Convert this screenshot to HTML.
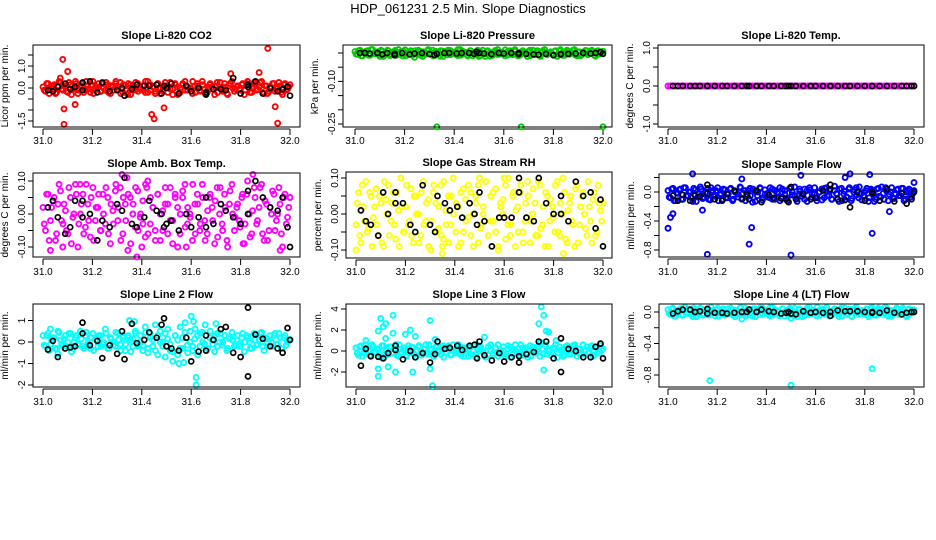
<!DOCTYPE html>
<html>
<head>
<meta charset="utf-8">
<style>
html,body{margin:0;padding:0;background:#fff;}
svg{display:block;font-family:"Liberation Sans",Arial,sans-serif;}
</style>
</head>
<body>
<svg id="chart" width="936" height="540" viewBox="0 0 936 540" xmlns="http://www.w3.org/2000/svg">
<rect x="0" y="0" width="936" height="540" fill="#fff"/>
<text x="468" y="13" text-anchor="middle" font-size="13">HDP_061231  2.5 Min. Slope Diagnostics</text>
</svg>
<script>
const blackTimes = [31.02,31.04,31.06,31.09,31.11,31.13,31.16,31.16,31.19,31.22,31.24,31.27,31.30,31.32,31.33,31.36,31.38,31.41,31.43,31.46,31.48,31.49,31.50,31.52,31.55,31.58,31.60,31.63,31.66,31.66,31.69,31.72,31.74,31.77,31.80,31.83,31.83,31.86,31.89,31.92,31.95,31.97,31.99,32.0];
const xTickValues = [31.0,31.2,31.4,31.6,31.8,32.0];
const xTickLabels = ["31.0","31.2","31.4","31.6","31.8","32.0"];

// ---- Panel 1: CO2
const co2Values = [0.05,-0.15,0.2,-0.05,0.1,-0.25,0.1,0.25,-0.1,0.05,-0.2,0.15,-0.05,0.3,-0.25,0.0,0.2,-0.1,0.1,-0.2,0.3,-0.05,0.05,-0.15,0.2,-0.1,0.15,-0.25,0.05,0.2,-0.05,0.25,-0.2,0.1,-0.3,0.15,0.0,-0.1,0.2,-0.05,0.1,-0.2,0.3,-0.1,0.05,-0.15,0.2,-0.25,0.05,0.1,-0.2,0.25,-0.05,0.15,-0.3,0.0,0.2,-0.1,0.05,-0.05,0.3,-0.2,0.1,-0.1,0.15,-0.25,0.05,0.2,-0.05,0.1,-0.2,0.25,-0.15,0.05,-0.3,0.2,0.0,-0.05,0.1,-0.1,0.2,-0.1,0.3,-0.2,0.05,0.15,-0.05,0.25,-0.2,0.1,-0.25,0.05,0.2,-0.15,0.0,0.1,-0.3,0.2,-0.05,0.15];
const co2ValuesB = [-0.1,0.2,-0.25,0.05,0.15,-0.2,0.3,-0.05,0.1,-0.15,0.25,-0.3,0.0,0.2,-0.1,0.1,-0.2,0.3,-0.05,0.15,-0.25,0.05,0.2,-0.15,0.0,0.25,-0.2,0.1,-0.1,0.3,0.05,-0.25,0.15,-0.05,0.2,-0.3,0.1,0.25,-0.15,0.0,-0.1,0.3,-0.2,0.15,0.05,-0.25,0.2,0.0,-0.15,0.25,0.1,-0.05,-0.3,0.2,0.05,-0.2,0.15,0.3,-0.1,0.0,-0.25,0.1,0.2,-0.15,0.3,-0.05,-0.2,0.15,0.05,-0.3,0.25,0.0,-0.1,0.2,-0.25,0.1,0.3,-0.15,0.05,-0.05,0.15,-0.3,0.2,0.0,-0.2,0.25,-0.1,0.05,0.3,-0.25,0.1,-0.15,0.0,0.2,-0.05,0.25,-0.2,0.15,-0.1,0.05];
const co2OutT = [31.08,31.085,31.10,31.085,31.13,31.07,31.44,31.45,31.49,31.76,31.875,31.91,31.94,31.95];
const co2OutV = [1.3,-1.65,0.75,-0.95,-0.75,0.45,-1.2,-1.4,-0.9,0.65,0.7,1.8,-0.85,-1.6];
const co2Black = [-0.1,-0.15,0.05,0.2,-0.05,0.05,-0.1,0.25,0.3,-0.2,0.25,-0.15,-0.1,0.0,-0.35,-0.05,0.15,0.1,0.1,0.15,-0.25,0.1,0.0,0.2,-0.25,0.1,-0.15,0.0,-0.3,-0.2,-0.05,-0.05,-0.1,0.45,-0.25,0.05,0.15,0.3,-0.25,0.0,-0.15,-0.05,0.05,-0.35];

// ---- Panel 2: Pressure
const presValues = [0.005,-0.005,0.01,-0.01,0.0,0.008,-0.008,0.012,-0.003,0.004,-0.012,0.006,-0.004,0.01,-0.009,0.002,0.009,-0.006,0.003,-0.01,0.011,-0.002,0.005,-0.007,0.008,-0.004,0.006,-0.012,0.001,0.009,-0.003,0.01,-0.008,0.004,-0.011,0.007,0.0,-0.006,0.009,-0.002,0.004,-0.009,0.012,-0.004,0.002,-0.007,0.008,-0.01,0.003,0.005,-0.008,0.01,-0.003,0.006,-0.011,0.001,0.009,-0.005,0.003,-0.002,0.011,-0.007,0.004,-0.004,0.006,-0.01,0.002,0.008,-0.003,0.005,-0.009,0.01,-0.006,0.002,-0.012,0.008,0.0,-0.002,0.004,-0.005,0.008,-0.004,0.012,-0.008,0.002,0.006,-0.002,0.01,-0.007,0.004,-0.01,0.003,0.009,-0.006,0.0,0.005,-0.011,0.008,-0.002,0.006];
const presValuesB = [-0.004,0.008,-0.01,0.002,0.006,-0.008,0.012,-0.002,0.004,-0.006,0.01,-0.012,0.0,0.008,-0.004,0.004,-0.008,0.012,-0.002,0.006,-0.01,0.002,0.008,-0.006,0.0,0.01,-0.008,0.004,-0.004,0.012,0.002,-0.01,0.006,-0.002,0.008,-0.012,0.004,0.01,-0.006,0.0,-0.004,0.012,-0.008,0.006,0.002,-0.01,0.008,0.0,-0.006,0.01,0.004,-0.002,-0.012,0.008,0.002,-0.008,0.006,0.012,-0.004,0.0,-0.01,0.004,0.008,-0.006,0.012,-0.002,-0.008,0.006,0.002,-0.012,0.01,0.0,-0.004,0.008,-0.01,0.004,0.012,-0.006,0.002,-0.002,0.006,-0.012,0.008,0.0,-0.008,0.01,-0.004,0.002,0.012,-0.01,0.004,-0.006,0.0,0.008,-0.002,0.01,-0.008,0.006,-0.004,0.002];
const presOutT = [31.33,31.67,32.0,31.24,31.5];
const presOutV = [-0.26,-0.26,-0.26,-0.015,-0.012];
const presBlack = [0,0,-0.002,0.0,-0.005,0.0,-0.008,-0.003,0.0,-0.005,-0.002,0.0,-0.004,-0.007,-0.003,0.0,0.0,-0.002,0.0,0.0,-0.003,0.004,0.0,-0.002,-0.004,0.0,-0.002,0.0,0.0,-0.004,-0.003,-0.005,-0.006,-0.003,-0.008,-0.005,-0.004,-0.003,-0.002,0.0,-0.002,0.0,0.003,-0.003];

// ---- Panel 3: Li-820 Temp
const tempValues = [0,0,0,0,0,0,0,0,0,0,0,0,0,0,0,0,0,0,0,0,0,0,0,0,0,0,0,0,0,0,0,0,0,0,0,0,0,0,0,0,0,0,0,0,0,0,0,0,0,0,0,0,0,0,0,0,0,0,0,0,0,0,0,0,0,0,0,0,0,0,0,0,0,0,0,0,0,0,0,0,0,0,0,0,0,0,0,0,0,0,0,0,0,0,0,0,0,0,0,0];
const tempValuesB = [];
const tempOutT = [];
const tempOutV = [];
const tempBlack = [0,0,0,0,0,0,0,0,0,0,0,0,0,0,0,0,0,0,0,0,0,0,0,0,0,0,0,0,0,0,0,0,0,0,0,0,0,0,0,0,0,0,0,0];

// ---- Panel 4: Amb. Box Temp
const ambValues = [0.02,-0.05,0.06,-0.02,0.04,-0.08,0.03,0.07,-0.03,0.01,-0.06,0.05,-0.01,0.09,-0.10,0.0,0.06,-0.04,0.03,-0.07,0.08,-0.02,0.02,-0.05,0.06,-0.03,0.05,-0.09,0.01,0.07,-0.02,0.08,-0.06,0.03,-0.11,0.05,0.0,-0.04,0.07,-0.01,0.04,-0.07,0.10,-0.03,0.02,-0.05,0.06,-0.08,0.01,0.03,-0.06,0.08,-0.02,0.05,-0.10,0.0,0.07,-0.04,0.02,-0.01,0.09,-0.06,0.03,-0.03,0.05,-0.08,0.01,0.06,-0.02,0.04,-0.07,0.08,-0.05,0.02,-0.10,0.07,0.0,-0.01,0.03,-0.04,0.06,-0.03,0.10,-0.07,0.01,0.05,-0.02,0.08,-0.06,0.04,-0.08,0.02,0.07,-0.05,0.0,0.03,-0.10,0.06,-0.01,0.05];
const ambValuesB = [-0.03,0.06,-0.08,0.02,0.05,-0.06,0.09,-0.02,0.03,-0.05,0.08,-0.09,0.0,0.06,-0.03,0.03,-0.06,0.09,-0.02,0.05,-0.08,0.02,0.06,-0.05,0.0,0.08,-0.06,0.03,-0.03,0.09,0.02,-0.08,0.05,-0.02,0.06,-0.09,0.03,0.08,-0.05,0.0,-0.03,0.09,-0.06,0.05,0.02,-0.08,0.06,0.0,-0.05,0.08,0.03,-0.02,-0.09,0.06,0.02,-0.06,0.05,0.09,-0.03,0.0,-0.08,0.03,0.06,-0.05,0.09,-0.02,-0.06,0.05,0.02,-0.09,0.08,0.0,-0.03,0.06,-0.08,0.03,0.09,-0.05,0.02,-0.02,0.05,-0.09,0.06,0.0,-0.06,0.08,-0.03,0.02,0.09,-0.08,0.03,-0.05,0.0,0.06,-0.02,0.08,-0.06,0.05,-0.03,0.02];
const ambOutT = [31.03,31.08,31.15,31.32,31.34,31.38,31.40,31.58,31.85,31.96,31.81,31.42];
const ambOutV = [-0.11,-0.10,0.09,0.12,0.11,-0.13,-0.10,-0.10,0.12,-0.11,-0.09,0.08];
const ambBlack = [0.02,0.04,-0.01,-0.06,-0.04,0.04,0.04,-0.01,0.00,-0.08,-0.02,-0.04,0.03,0.01,0.11,-0.03,-0.04,-0.01,0.04,0.01,0.00,-0.04,-0.03,-0.02,-0.05,0.00,-0.04,-0.01,-0.04,0.05,-0.03,0.03,0.01,-0.01,-0.03,0.07,0.00,0.10,0.05,0.02,0.01,0.05,-0.04,-0.10];

// ---- Panel 5: Gas Stream RH
const rhValues = [-0.03,0.06,-0.08,0.02,0.09,-0.04,0.05,-0.01,0.07,-0.06,0.03,-0.09,0.04,0.08,-0.02,0.06,-0.07,0.01,0.10,-0.05,0.02,-0.03,0.07,-0.08,0.05,0.0,-0.06,0.09,-0.02,0.04,-0.10,0.06,0.03,-0.04,0.08,-0.07,0.01,0.05,-0.03,0.10,-0.05,0.02,-0.08,0.07,0.04,-0.01,0.06,-0.09,0.03,0.08,-0.04,0.0,0.09,-0.06,0.05,-0.02,0.07,-0.10,0.02,0.04,-0.07,0.10,-0.03,0.06,0.01,-0.05,0.08,-0.08,0.03,0.05,-0.02,0.07,-0.06,0.09,-0.04,0.02,0.06,-0.09,0.04,-0.01,0.08,-0.05,0.03,0.10,-0.07,0.01,0.05,-0.03,0.07,-0.08,0.02,0.06,-0.04,0.09,-0.02,0.04,-0.06,0.08,0.01,0.03];
const rhValuesB = [0.03,-0.06,0.08,-0.02,-0.05,0.06,-0.09,0.02,-0.03,0.05,-0.08,0.09,0.0,-0.06,0.03,-0.03,0.06,-0.09,0.02,-0.05,0.08,-0.02,-0.06,0.05,0.0,-0.08,0.06,-0.03,0.03,-0.09,-0.02,0.08,-0.05,0.02,-0.06,0.09,-0.03,-0.08,0.05,0.0,0.03,-0.09,0.06,-0.05,-0.02,0.08,-0.06,0.0,0.05,-0.08,-0.03,0.02,0.09,-0.06,-0.02,0.06,-0.05,-0.09,0.03,0.0,0.08,-0.03,-0.06,0.05,-0.09,0.02,0.06,-0.05,-0.02,0.09,-0.08,0.0,0.03,-0.06,0.08,-0.03,-0.09,0.05,-0.02,0.02,-0.05,0.09,-0.06,0.0,0.06,-0.08,0.03,-0.02,-0.09,0.08,-0.03,0.05,0.0,-0.06,0.02,-0.08,0.06,-0.05,0.03,-0.02];
const rhOutT = [31.0,31.35,31.35,31.84,31.50,31.60];
const rhOutV = [-0.10,-0.11,-0.09,-0.11,0.10,0.10];
const rhBlack = [0.01,-0.02,-0.03,-0.06,0.06,0.00,0.06,0.03,0.03,-0.03,-0.05,0.08,-0.03,-0.05,0.05,0.03,0.01,0.02,-0.01,0.03,0.00,-0.03,0.06,-0.02,-0.09,-0.01,-0.01,-0.01,0.10,0.06,-0.01,-0.02,0.10,0.03,0.00,0.05,0.00,-0.02,0.09,0.05,0.06,-0.04,0.04,-0.09];

// ---- Panel 6: Sample Flow
const sfValues = [0.02,-0.08,0.05,-0.12,-0.02,0.04,-0.1,0.06,-0.05,0.0,-0.13,0.03,-0.07,0.07,-0.09,-0.01,0.05,-0.11,0.02,-0.06,0.06,-0.04,-0.1,0.03,-0.08,0.04,-0.12,0.0,-0.03,0.07,-0.09,0.02,-0.06,0.05,-0.14,0.01,-0.05,0.06,-0.11,0.03,-0.02,-0.08,0.04,-0.1,0.0,0.06,-0.07,0.02,-0.12,0.05,-0.04,0.07,-0.09,0.01,-0.06,0.04,-0.13,0.03,-0.02,0.06,-0.08,0.0,-0.11,0.05,-0.05,0.02,-0.1,0.08,-0.03,0.04,-0.12,0.01,-0.07,0.06,-0.09,0.03,-0.04,0.07,-0.11,0.0,0.05,-0.08,0.02,-0.13,0.04,-0.06,0.07,-0.1,0.01,-0.03,0.06,-0.09,0.03,-0.05,0.05,-0.12,0.0,0.04,-0.07,0.02];
const sfValuesB = [-0.07,0.04,-0.12,-0.01,0.03,-0.1,0.06,-0.05,0.0,-0.08,0.05,-0.13,-0.03,0.04,-0.07,0.0,-0.1,0.06,-0.05,0.02,-0.12,-0.02,0.04,-0.08,-0.03,0.05,-0.1,0.0,-0.07,0.06,-0.02,-0.12,0.02,-0.05,0.04,-0.13,0.0,0.05,-0.08,-0.03,-0.07,0.06,-0.1,0.02,-0.02,-0.12,0.04,-0.03,-0.08,0.05,0.0,-0.05,-0.13,0.04,-0.02,-0.1,0.02,0.06,-0.07,-0.03,-0.12,0.0,0.04,-0.08,0.06,-0.05,-0.1,0.02,-0.02,-0.13,0.05,-0.03,-0.07,0.04,-0.12,0.0,0.06,-0.08,-0.02,-0.05,0.02,-0.13,0.04,-0.03,-0.1,0.05,-0.07,-0.02,0.06,-0.12,0.0,-0.08,-0.03,0.04,-0.05,0.05,-0.1,0.02,-0.07,-0.02];
const sfOutT = [31.0,31.01,31.02,31.10,31.14,31.16,31.30,31.33,31.34,31.50,31.54,31.72,31.74,31.82,31.83,31.90,32.0];
const sfOutV = [-0.5,-0.35,-0.3,0.25,-0.25,-0.86,0.18,-0.72,-0.49,-0.87,0.23,0.2,0.25,0.24,-0.57,-0.27,0.13];
const sfBlack = [-0.05,-0.12,-0.04,-0.12,-0.05,-0.06,0.1,-0.02,-0.1,-0.12,-0.03,0.02,-0.1,-0.03,-0.1,0.02,-0.14,-0.04,-0.08,-0.09,-0.1,-0.14,0.07,-0.1,-0.03,-0.1,-0.08,0.02,0.1,0.04,-0.1,-0.11,-0.21,0.0,-0.12,-0.02,0.0,-0.12,0.04,-0.13,-0.02,-0.16,-0.1,0.0];

// ---- Panel 7: Line 2 Flow
const l2Values = [0.3,-0.2,0.4,-0.1,0.2,-0.3,0.5,0.1,-0.2,0.3,0.0,0.4,-0.3,0.2,-0.1,0.5,-0.2,0.3,0.0,-0.3,0.4,0.1,-0.2,0.3,-0.1,0.6,-0.3,0.2,0.0,-0.2,0.4,-0.1,0.3,-0.4,0.2,0.1,-0.2,0.5,-0.1,0.3,-0.4,0.7,-0.5,0.4,-0.2,0.8,-0.6,0.5,0.0,-0.7,0.6,-0.4,-0.9,0.3,-0.6,0.7,-0.3,0.9,-0.5,0.5,-0.2,0.6,-0.6,0.4,0.0,0.8,-0.3,0.5,-0.1,0.3,-0.2,0.4,0.0,0.3,-0.3,0.2,0.1,-0.1,0.3,-0.2,0.4,0.0,0.2,-0.3,0.3,0.1,-0.1,0.4,-0.2,0.2,0.0,0.3,-0.2,0.4,-0.1,0.2,-0.3,0.3,0.0,0.1];
const l2ValuesB = [-0.15,0.3,-0.4,0.1,0.2,-0.3,0.45,-0.1,0.15,-0.2,0.4,-0.45,0.0,0.3,-0.15,0.15,-0.3,0.45,-0.1,0.2,-0.4,0.1,0.3,-0.2,0.0,0.4,-0.3,0.15,-0.15,0.45,0.1,-0.4,0.2,-0.1,0.3,-0.45,0.15,0.4,-0.2,0.0,-0.15,0.45,-0.3,0.2,0.1,-0.4,0.3,0.0,-0.2,0.4,0.15,-0.1,-0.45,0.3,0.1,-0.3,0.2,0.45,-0.15,0.0,-0.4,0.15,0.3,-0.2,0.45,-0.1,-0.3,0.2,0.1,-0.45,0.4,0.0,-0.15,0.3,-0.4,0.15,0.45,-0.2,0.1,-0.1,0.2,-0.45,0.3,0.0,-0.3,0.4,-0.15,0.1,0.45,-0.4,0.15,-0.2,0.0,0.3,-0.1,0.4,-0.3,0.2,-0.15,0.1];
const l2OutT = [31.6,31.61,31.62,31.62,31.03,31.35,31.37,31.06,31.55,31.57,31.7];
const l2OutV = [1.2,0.95,-1.65,-2.0,0.6,1.0,0.95,-0.55,-1.0,-0.95,0.85];
const l2Black = [-0.35,0.05,-0.7,-0.3,-0.25,-0.2,0.9,0.4,-0.15,0.05,-0.75,-0.15,-0.55,0.5,-0.8,0.85,-0.05,0.1,0.45,0.2,0.8,1.1,-0.2,-0.3,-0.4,0.2,-0.9,-0.45,0.3,-0.4,0.1,0.6,0.7,-0.5,-0.7,-1.6,1.6,0.35,0.15,-0.2,-0.3,-0.5,0.65,0.1];

// ---- Panel 8: Line 3 Flow
const l3Values = [0.3,-0.4,0.5,-0.2,0.6,0.1,-0.5,0.4,-0.1,0.2,-0.6,0.5,0.0,-0.3,0.4,-0.2,0.6,-0.5,0.2,0.1,-0.4,0.5,-0.1,0.3,-0.6,0.4,0.0,-0.2,0.6,-0.3,0.2,-0.5,0.4,0.1,-0.3,0.5,-0.1,0.3,-0.4,0.6,0.0,-0.2,0.4,-0.5,0.3,0.1,-0.3,0.5,-0.6,0.2,0.4,-0.1,0.0,-0.4,0.6,-0.2,0.3,-0.5,0.1,0.4,-0.3,0.5,-0.6,0.2,0.0,-0.2,0.6,-0.4,0.3,0.1,-0.5,0.4,-0.1,0.2,0.8,-0.3,0.5,0.0,-0.4,0.3,0.6,-0.2,0.1,-0.5,0.4,0.0,-0.3,0.5,-0.1,0.2,-0.4,0.6,0.1,-0.2,0.3,-0.5,0.4,0.0,0.5,0.2];
const l3ValuesB = [-0.2,0.4,-0.5,0.1,0.3,-0.4,0.6,-0.1,0.2,-0.3,0.5,-0.6,0.0,0.4,-0.2,0.2,-0.4,0.6,-0.1,0.3,-0.5,0.1,0.4,-0.3,0.0,0.5,-0.4,0.2,-0.2,0.6,0.1,-0.5,0.3,-0.1,0.4,-0.6,0.2,0.5,-0.3,0.0,-0.2,0.6,-0.4,0.3,0.1,-0.5,0.4,0.0,-0.3,0.5,0.2,-0.1,-0.6,0.4,0.1,-0.4,0.3,0.6,-0.2,0.0,-0.5,0.2,0.4,-0.3,0.6,-0.1,-0.4,0.3,0.1,-0.6,0.5,0.0,-0.2,0.4,-0.5,0.2,0.6,-0.3,0.1,-0.1,0.3,-0.6,0.4,0.0,-0.4,0.5,-0.2,0.1,0.6,-0.5,0.2,-0.3,0.0,0.4,-0.1,0.5,-0.4,0.3,-0.2,0.1];
const l3OutT = [31.09,31.09,31.10,31.11,31.12,31.13,31.15,31.15,31.16,31.09,31.12,31.20,31.22,31.23,31.24,31.30,31.31,31.30,31.52,31.75,31.76,31.74,31.77,31.78,31.76,31.81,31.04,31.32];
const l3OutV = [-2.4,1.9,3.1,2.3,2.6,-1.5,3.4,1.7,-2.0,-1.7,1.2,1.6,2.0,-2.0,1.4,2.9,-3.3,-1.7,1.3,4.2,3.4,2.6,1.9,1.8,-1.8,1.0,1.0,1.1];
const l3Black = [-1.4,0.2,-0.5,-0.55,-0.7,-0.2,0.5,0.1,-0.8,0.0,-0.6,-0.2,-1.1,-0.3,0.9,0.2,0.3,0.5,0.1,0.5,0.6,-0.7,0.9,-0.4,-0.9,-0.2,-1.0,-0.6,-0.5,-1.1,-0.3,-0.1,0.9,0.9,-0.7,-2.0,1.2,0.2,0.0,-0.6,-0.6,0.4,0.7,-0.7];

// ---- Panel 9: Line 4 (LT) Flow
const l4Values = [0.03,-0.03,0.05,-0.05,0.0,0.04,-0.04,0.06,-0.02,0.02,-0.06,0.03,-0.02,0.05,-0.04,0.01,0.04,-0.03,0.02,-0.05,0.05,-0.01,0.03,-0.04,0.04,-0.02,0.03,-0.06,0.0,0.05,-0.02,0.05,-0.04,0.02,-0.05,0.04,0.0,-0.03,0.05,-0.01,0.02,-0.05,0.06,-0.02,0.01,-0.04,0.04,-0.05,0.02,0.03,-0.04,0.05,-0.02,0.03,-0.06,0.0,0.05,-0.03,0.02,-0.01,0.06,-0.04,0.02,-0.02,0.03,-0.05,0.01,0.04,-0.02,0.03,-0.05,0.05,-0.03,0.01,-0.06,0.04,0.0,-0.01,0.02,-0.03,0.04,-0.02,0.06,-0.04,0.01,0.03,-0.01,0.05,-0.04,0.02,-0.05,0.02,0.05,-0.03,0.0,0.03,-0.06,0.04,-0.01,0.03];
const l4ValuesB = [-0.02,0.04,-0.05,0.01,0.03,-0.04,0.06,-0.01,0.02,-0.03,0.05,-0.06,0.0,0.04,-0.02,0.02,-0.04,0.06,-0.01,0.03,-0.05,0.01,0.04,-0.03,0.0,0.05,-0.04,0.02,-0.02,0.06,0.01,-0.05,0.03,-0.01,0.04,-0.06,0.02,0.05,-0.03,0.0,-0.02,0.06,-0.04,0.03,0.01,-0.05,0.04,0.0,-0.03,0.05,0.02,-0.01,-0.06,0.04,0.01,-0.04,0.03,0.06,-0.02,0.0,-0.05,0.02,0.04,-0.03,0.06,-0.01,-0.04,0.03,0.01,-0.06,0.05,0.0,-0.02,0.04,-0.05,0.02,0.06,-0.03,0.01,-0.01,0.03,-0.06,0.04,0.0,-0.04,0.05,-0.02,0.01,0.06,-0.05,0.02,-0.03,0.0,0.04,-0.01,0.05,-0.04,0.03,-0.02,0.01];
const l4OutT = [31.17,31.5,31.83,31.30,31.50];
const l4OutV = [-0.87,-0.93,-0.72,-0.09,-0.08];
const l4Black = [-0.02,0.01,0.03,0.03,0.0,0.01,0.04,-0.02,-0.01,-0.01,-0.02,-0.01,0.0,0.0,0.03,0.0,0.03,0.01,0.0,-0.02,-0.01,0.0,-0.02,-0.03,0.01,-0.01,0.0,-0.01,0.0,-0.05,0.02,0.01,0.01,0.01,0.0,-0.01,0.0,-0.01,0.02,-0.01,-0.03,-0.01,0.0,0.0];

const NS = "http://www.w3.org/2000/svg";
const svg = document.getElementById("chart");
function mk(tag, attrs, parent){const e=document.createElementNS(NS,tag);for(const k in attrs)e.setAttribute(k,attrs[k]);(parent||svg).appendChild(e);return e;}

const panels = [
 {id:"co2",title:"Slope Li-820 CO2",ylab:"Licor ppm per min.",color:"#ff0000",box:[33,45,300,127],x0:43,x1:290,yv:[0,1],yp:[88,66],ticks:[-1.5,-1,-0.5,0,0.5,1,1.5],labs:{"1":"1.0","0":"0.0","-1.5":"-1.5"},vals:co2Values,valsB:co2ValuesB,ot:co2OutT,ov:co2OutV,bk:co2Black,xl:144},
 {id:"pressure",title:"Slope Li-820 Pressure",ylab:"kPa per min.",color:"#00cc00",box:[343,45,612,127],x0:355,x1:603,yv:[0,-0.25],yp:[53,124],ticks:[0,-0.05,-0.1,-0.15,-0.2,-0.25],labs:{"-0.1":"-0.10","-0.25":"-0.25"},vals:presValues,valsB:presValuesB,ot:presOutT,ov:presOutV,bk:presBlack,xl:144},
 {id:"temp",title:"Slope Li-820 Temp.",ylab:"degrees C per min.",color:"#ff00ff",box:[658,45,924,127],x0:668,x1:914,yv:[0,1],yp:[86,48],ticks:[-1,-0.5,0,0.5,1],labs:{"1":"1.0","0":"0.0","-1":"-1.0"},vals:tempValues,valsB:tempValuesB,ot:tempOutT,ov:tempOutV,bk:tempBlack,xl:144},
 {id:"amb-box-temp",title:"Slope Amb. Box Temp.",ylab:"degrees C per min.",color:"#ff00ff",box:[33,173,300,257],x0:43,x1:290,yv:[0,0.1],yp:[214,181],ticks:[-0.1,-0.05,0,0.05,0.1],labs:{"0.1":"0.10","0":"0.00","-0.1":"-0.10"},vals:ambValues,valsB:ambValuesB,ot:ambOutT,ov:ambOutV,bk:ambBlack,xl:275},
 {id:"gas-rh",title:"Slope Gas Stream RH",ylab:"percent per min.",color:"#ffff00",box:[346,172,612,258],x0:356,x1:603,yv:[0,0.1],yp:[214,178],ticks:[-0.1,-0.05,0,0.05,0.1],labs:{"0.1":"0.10","0":"0.00","-0.1":"-0.10"},vals:rhValues,valsB:rhValuesB,ot:rhOutT,ov:rhOutV,bk:rhBlack,xl:275},
 {id:"sample-flow",title:"Slope Sample Flow",ylab:"ml/min per min.",color:"#0000ff",box:[659,174,924,257],x0:668,x1:914,yv:[0,-0.8],yp:[192,250],ticks:[0.2,0,-0.2,-0.4,-0.6,-0.8],labs:{"0":"0.0","-0.4":"-0.4","-0.8":"-0.8"},vals:sfValues,valsB:sfValuesB,ot:sfOutT,ov:sfOutV,bk:sfBlack,xl:275},
 {id:"line2-flow",title:"Slope Line 2 Flow",ylab:"ml/min per min.",color:"#00ffff",box:[33,304,300,387],x0:43,x1:290,yv:[0,-2],yp:[342,385],ticks:[1,0,-1,-2],labs:{"1":"1","0":"0","-1":"-1","-2":"-2"},vals:l2Values,valsB:l2ValuesB,ot:l2OutT,ov:l2OutV,bk:l2Black,xl:405},
 {id:"line3-flow",title:"Slope Line 3 Flow",ylab:"ml/min per min.",color:"#00ffff",box:[346,304,612,387],x0:356,x1:603,yv:[0,4],yp:[351,309],ticks:[4,2,0,-2],labs:{"4":"4","2":"2","0":"0","-2":"-2"},vals:l3Values,valsB:l3ValuesB,ot:l3OutT,ov:l3OutV,bk:l3Black,xl:405},
 {id:"line4-flow",title:"Slope Line 4 (LT) Flow",ylab:"ml/min per min.",color:"#00ffff",box:[659,304,924,387],x0:668,x1:914,yv:[0,-0.8],yp:[312,375],ticks:[0,-0.2,-0.4,-0.6,-0.8],labs:{"0":"0.0","-0.4":"-0.4","-0.8":"-0.8"},vals:l4Values,valsB:l4ValuesB,ot:l4OutT,ov:l4OutV,bk:l4Black,xl:405}
];

panels.forEach(p=>{
  const g = mk("g",{});
  
  
  const [L,T,R,B] = p.box;
  const xs = t => p.x0 + (t-31)*(p.x1-p.x0);
  const ys = v => p.yp[0] + (v-p.yv[0])*(p.yp[1]-p.yp[0])/(p.yv[1]-p.yv[0]);
  const cx = (L+R)/2;
  const tt = mk("text",{x:cx,y:T-6,"text-anchor":"middle","font-size":"11","font-weight":"bold"},g);
  tt.textContent = p.title;
  
  
  const yt = mk("text",{x:0,y:0,"text-anchor":"middle","font-size":"10",transform:`translate(${L-25},${(T+B)/2}) rotate(-90)`},g);
  yt.textContent = p.ylab;
  
  
  const ya = mk("g",{},g);
  
  
  const tys = p.ticks.map(ys);
  mk("line",{x1:L,x2:L,y1:Math.min(...tys),y2:Math.max(...tys),stroke:"#000","stroke-width":1},ya);
  p.ticks.forEach(v=>{
    const y = ys(v);
    mk("line",{x1:L-5,x2:L,y1:y,y2:y,stroke:"#000","stroke-width":1},ya);
    const key = String(v);
    if(p.labs[key]!==undefined){
      const t = mk("text",{x:0,y:0,"text-anchor":"middle","font-size":"10",transform:`translate(${L-8},${y}) rotate(-90)`},ya);
      t.textContent = p.labs[key];
      
      
    }
  });
  const xa = mk("g",{},g);
  
  
  mk("line",{x1:xs(31),x2:xs(32),y1:B+2,y2:B+2,stroke:"#000","stroke-width":1},xa);
  xTickValues.forEach((v,i)=>{
    const x = xs(v);
    mk("line",{x1:x,x2:x,y1:B+2,y2:B+8,stroke:"#000","stroke-width":1},xa);
    const t = mk("text",{x:x,y:p.xl,"text-anchor":"middle","font-size":"10"},xa);
    t.textContent = xTickLabels[i];
    
    
  });
  const pts = mk("g",{},g);
  
  
  const n = p.vals.length;
  p.vals.forEach((v,i)=>{
    const c = mk("circle",{cx:xs(31+i/(n-1)),cy:ys(v),r:2.5,fill:"none",stroke:p.color,"stroke-width":1.9},pts);
    
    
  });
  const nb = p.valsB.length;
  p.valsB.forEach((v,i)=>{
    const c = mk("circle",{cx:xs(31+(i+0.5)/nb),cy:ys(v),r:2.5,fill:"none",stroke:p.color,"stroke-width":1.9},pts);
    
    
  });
  p.ot.forEach((t,i)=>{
    const c = mk("circle",{cx:xs(t),cy:ys(p.ov[i]),r:2.5,fill:"none",stroke:p.color,"stroke-width":1.9},pts);
    
    
  });
  const bk = mk("g",{},g);
  
  
  p.bk.forEach((v,i)=>{
    if(i>=blackTimes.length) return;
    const c = mk("circle",{cx:xs(blackTimes[i]),cy:ys(v),r:2.5,fill:"none",stroke:"#000","stroke-width":1.7},bk);
    
    
  });
  const bx = mk("rect",{x:L,y:T,width:R-L,height:B-T,fill:"none",stroke:"#000","stroke-width":1},g);
  
  
});
</script>
</body>
</html>
